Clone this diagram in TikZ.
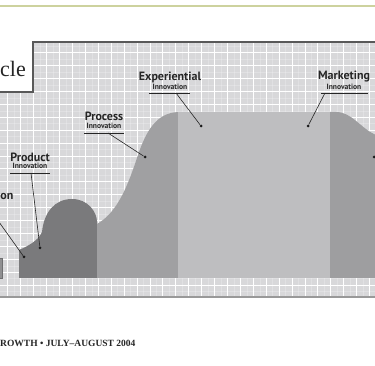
\documentclass[tikz,border=0pt]{standalone}
\usepackage{fontspec}
\setmainfont{Liberation Serif}
\setsansfont{PT Sans}
\begin{document}
\begin{tikzpicture}[x=1pt,y=-1pt,
  big/.style={font=\sffamily\bfseries\fontsize{12}{12}\selectfont, text=black!85, inner sep=0pt},
  small/.style={font=\sffamily\bfseries\fontsize{7.6}{7.6}\selectfont, text=black!85, inner sep=0pt},
  uline/.style={draw=black!85, line width=0.9pt},
  leader/.style={draw=black!85, line width=0.6pt},
  dotc/.style={circle, fill=black!90, inner sep=0pt, minimum size=3pt},
  gridmaj/.style={draw=white, line width=1pt},
  gridmin/.style={draw=white, opacity=0.22, line width=0.6pt}]
\useasboundingbox (0,0) rectangle (375,366);
\fill[white] (0,0) rectangle (375,366);
% top rule
\draw[draw={rgb,255:red,205;green,210;blue,158}, line width=2pt] (0,6.5) -- (375,6.5);
% panel
\path[fill={rgb,255:red,216;green,216;blue,218}] (0,92) -- (33,92) -- (33,42) -- (375,42) -- (375,297) -- (0,297) -- cycle;
\begin{scope}
\clip (0,92) -- (33,92) -- (33,42) -- (375,42) -- (375,297) -- (0,297) -- cycle;
\foreach \i in {0,...,28} {
  \draw[gridmaj] ({7.9+12.92*\i},40) -- ++(0,260);
  \draw[gridmin] ({7.9+12.92*\i+6.46},40) -- ++(0,260);
}
\foreach \j in {-1,...,19} {
  \draw[gridmaj] (0,{52.7+12.92*\j}) -- ++(375,0);
  \draw[gridmin] (0,{52.7+12.92*\j+6.46}) -- ++(375,0);
}
\end{scope}
\draw[draw=black!65, line width=1.2pt] (0,92) -- (33,92) -- (33,42) -- (375,42);
\draw[draw=black!40, line width=1.5pt] (0,297) -- (375,297);
% shapes
\fill[fill={rgb,255:red,143;green,143;blue,145}, draw={rgb,255:red,110;green,110;blue,112}, line width=0.6pt] (-2,258) rectangle (2.5,278);
\fill[fill={rgb,255:red,122;green,122;blue,124}] (19,278) -- (19,250) .. controls (28,246) and (38,241) .. (42,232) .. controls (44,212) and (55,199) .. (72,199) .. controls (88,199) and (97,212) .. (97,222) -- (97,278) -- cycle;
\fill[fill={rgb,255:red,160;green,160;blue,162}] (97,278) -- (97,224) .. controls (118,212) and (128,185) .. (138,155) .. controls (148,125) and (160,112) .. (180,112) -- (180,278) -- cycle;
\fill[fill={rgb,255:red,190;green,190;blue,192}] (178,112) rectangle (330,278);
\fill[fill={rgb,255:red,158;green,158;blue,160}] (330,278) -- (330,112) -- (336,112) .. controls (352,112) and (360,128) .. (376,135) -- (376,278) -- cycle;
% dots
\node[dotc] (dE) at (201,126) {};
\node[dotc] (dM) at (308,126) {};
\node[dotc] (dM2) at (374,157) {};
\node[dotc] (dP) at (145,157) {};
\node[dotc] (dR) at (40,248) {};
\node[dotc] (dO) at (24,257) {};
% labels
\node[big] (tE) at (170,77) {Experiential};
\node[small] (sE) at (170,86.5) {Innovation};
\coordinate (uE1) at (149,93); \coordinate (uE2) at (190,93); \coordinate (lE) at (176,93);
\draw[uline] (uE1) -- (uE2);
\draw[leader] (lE) -- (dE);
\node[big] (tM) at (344,77) {Marketing};
\node[small] (sM) at (344,86.5) {Innovation};
\coordinate (uM1) at (321,93); \coordinate (uM2) at (368,93); \coordinate (lM) at (325,93);
\draw[uline] (uM1) -- (uM2);
\draw[leader] (lM) -- (dM);
\node[big] (tP) at (104,116) {Process};
\node[small] (sP) at (104,126) {Innovation};
\coordinate (uP1) at (84,133); \coordinate (uP2) at (124,133); \coordinate (lP) at (108,133);
\draw[uline] (uP1) -- (uP2);
\draw[leader] (lP) -- (dP);
\node[big] (tR) at (30,157) {Product};
\node[small] (sR) at (30,166) {Innovation};
\coordinate (uR1) at (10,173); \coordinate (uR2) at (50,173); \coordinate (lR) at (31,173);
\draw[uline] (uR1) -- (uR2);
\draw[leader] (lR) -- (dR);
\node[big, anchor=west] (tO) at (0.3,197) {on};
\coordinate (lO) at (-1,222);
\draw[leader] (lO) -- (dO);
% title and footer
\node[anchor=base west, inner sep=0pt, font=\fontsize{22}{22}\selectfont, text=black!85] (title) at (0,77) {cle};
\node[anchor=base west, inner sep=0pt, font=\bfseries\fontsize{9.5}{9.5}\selectfont, text=black!85] (foot) at (0,346) {ROWTH • JULY–AUGUST 2004};
\end{tikzpicture}
\end{document}
